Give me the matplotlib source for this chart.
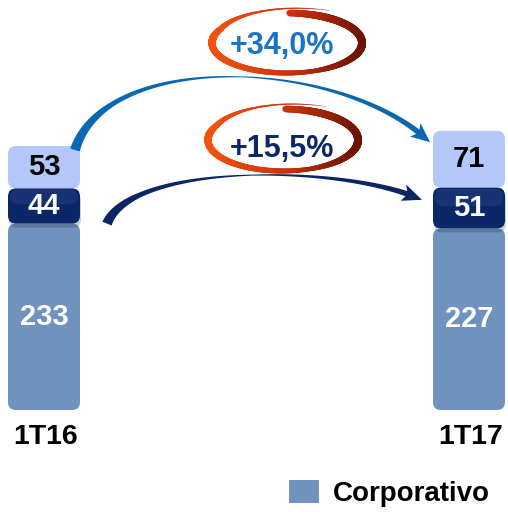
import numpy as np
import matplotlib
matplotlib.use('Agg')
import matplotlib.pyplot as plt
from matplotlib.patches import FancyBboxPatch, Polygon, Patch
from matplotlib.collections import LineCollection
from matplotlib.colors import to_rgb

plt.rcParams['font.family'] = ['Liberation Sans', 'DejaVu Sans']
plt.rcParams['font.weight'] = 'bold'

# data
periods = ['1T16', '1T17']
corporativo = [233, 227]
middle = [44, 51]
top = [53, 71]
growth_labels = ['+34,0%', '+15,5%']
legend_label = 'Corporativo'

W, H = 508, 515
fig = plt.figure(figsize=(W / 100, H / 100), dpi=100)
ax = fig.add_axes([0, 0, 1, 1])
px_x = 425.0   # pixels per x unit
px_y = 0.8     # pixels per value unit
ax.set_xlim(-44 / px_x, (W - 44) / px_x)
ax.set_ylim(-105 / px_y, (H - 105) / px_y)
ax.axis('off')

c_low, c_mid, c_top = '#6f92bf', '#0c2767', '#b3c7fb'
x = np.arange(len(periods))
width = 72 / px_x

b1 = ax.bar(x, corporativo, width, color=c_low)
b3 = ax.bar(x, top, width, bottom=np.add(corporativo, middle), color=c_top)
b2 = ax.bar(x, middle, width, bottom=corporativo, color=c_mid)


def round_bars(container, z, shadow=False):
    style = "round,pad=0,rounding_size=%f" % (8 / px_x)
    for r in container:
        r.set_visible(False)
        x0, y0, w, h = r.get_x(), r.get_y(), r.get_width(), r.get_height()
        if shadow:
            ax.add_patch(FancyBboxPatch((x0 + 1 / px_x, y0 - 4 / px_y), w, h,
                                        boxstyle=style, mutation_aspect=px_x / px_y,
                                        fc='#000000', alpha=0.18, lw=0, zorder=z - 0.1))
        ax.add_patch(FancyBboxPatch((x0, y0), w, h, boxstyle=style,
                                    mutation_aspect=px_x / px_y,
                                    fc=r.get_facecolor(), lw=0, zorder=z))
        if shadow:
            # glossy top of the dark box
            ax.add_patch(FancyBboxPatch((x0 + 2 / px_x, y0 + h * 0.55), w - 4 / px_x, h * 0.42,
                                        boxstyle=style, mutation_aspect=px_x / px_y,
                                        fc='#3a5a9e', alpha=0.25, lw=0, zorder=z + 0.1))


round_bars(b1, 2)
round_bars(b3, 2)
round_bars(b2, 3, shadow=True)

# value labels
for i in range(len(periods)):
    ax.text(x[i], corporativo[i] / 2, str(corporativo[i]), ha='center', va='center',
            color='white', fontsize=21, zorder=5)
    ax.text(x[i], corporativo[i] + middle[i] / 2, str(middle[i]), ha='center', va='center',
            color='white', fontsize=21, zorder=5)
    ax.text(x[i], corporativo[i] + middle[i] + top[i] / 2, str(top[i]), ha='center',
            va='center', color='black', fontsize=21, zorder=5)
    ax.annotate(periods[i], (x[i], 0), xytext=(1, -10), textcoords='offset points',
                ha='center', va='top', fontsize=20.5, color='black')

ax.legend(handles=[Patch(facecolor=c_low)], labels=[legend_label], loc='lower right',
          bbox_to_anchor=(490 / W, 8 / H), frameon=False, borderpad=0, borderaxespad=0,
          handlelength=1.1, handleheight=0.9, handletextpad=0.5,
          prop={'size': 20, 'weight': 'bold'})

# overlay in pixel space for the arrows and the rings
ov = fig.add_axes([0, 0, 1, 1], zorder=3)
ov.set_xlim(0, W)
ov.set_ylim(H, 0)
ov.axis('off')


def to_px(xd, yd):
    dx, dy = ax.transData.transform((xd, yd))
    return np.array([dx, H - dy])


def swoosh(p0, p3, d1, d2, color, w0=10, head_len=17, head_w=17):
    p1, p2 = p0 + np.array(d1), p3 + np.array(d2)
    t = np.linspace(0, 1, 400)[:, None]
    pts = (1 - t) ** 3 * p0 + 3 * (1 - t) ** 2 * t * p1 + 3 * (1 - t) * t ** 2 * p2 + t ** 3 * p3
    dist = np.linalg.norm(pts - p3, axis=1)
    k = int(np.argmax(dist < head_len))
    body = pts[:k + 1]
    tt = np.linspace(0, 1, len(body))
    w = np.interp(tt, [0, 0.2, 0.55, 1], [w0, 5, 1, 5.5])
    tang = np.gradient(body, axis=0)
    tang /= np.linalg.norm(tang, axis=1)[:, None]
    nrm = np.column_stack([-tang[:, 1], tang[:, 0]])
    left = body + nrm * w[:, None] / 2
    right = body - nrm * w[:, None] / 2
    base, n_end, t_end = body[-1], nrm[-1], tang[-1]
    head = [base + n_end * head_w / 2 - t_end * 3, p3, base - n_end * head_w / 2 - t_end * 3]
    poly = np.vstack([left, head, right[::-1]])
    ov.add_patch(Polygon(poly, closed=True, fc=color, lw=0))


def ring(cx, cy, a, b):
    deg = np.linspace(62, 448, 500)
    th = np.radians(deg)
    grow = 1 + 0.22 * np.clip(1 - (deg - 62) / 90, 0, 1)
    xs = cx + a * grow * np.cos(th)
    ys = cy - b * grow * np.sin(th)
    w = np.interp(deg, [62, 110, 170, 230, 290, 350, 420, 448],
                  [0.3, 2, 7.5, 6, 4.5, 8, 7.5, 6.5])
    frac = np.clip((xs - (cx - a)) / (2 * a), 0, 1)
    c0, c1, c2 = (np.array(to_rgb(c)) for c in ('#f5520f', '#cf340b', '#6b1300'))
    cols = np.where(frac[:, None] < 0.5,
                    c0 + (c1 - c0) * (frac[:, None] / 0.5),
                    c1 + (c2 - c1) * ((frac[:, None] - 0.5) / 0.5))
    pts = np.column_stack([xs, ys])
    segs = np.stack([pts[:-1], pts[1:]], axis=1)
    ov.add_collection(LineCollection(segs, linewidths=w[:-1] * 0.72, colors=cols[:-1],
                                     capstyle='round'))


# arrows anchored on the bars
tot0 = corporativo[0] + middle[0] + top[0]
p0 = to_px(x[0] + width / 2, tot0) + np.array([-5, 4])
p3 = to_px(x[1] - width / 2, corporativo[1] + middle[1] + top[1] * 0.8) + np.array([-3, 0])
swoosh(p0, p3, (30, -100), (-90, -85), '#0a68b0')

p0 = to_px(x[0] + width / 2, corporativo[0]) + np.array([27, 0])
p3 = to_px(x[1] - width / 2, corporativo[1] + middle[1] * 0.7) + np.array([-11, 0])
swoosh(p0, p3, (25, -62), (-75, -35), '#0b2463')

ring(287, 43, 75, 30)
ring(283, 140, 75, 31)
ov.text(282, 46, growth_labels[0], ha='center', va='center', fontsize=22, color='#1874c6')
ov.text(282, 149, growth_labels[1], ha='center', va='center', fontsize=22, color='#0c2767')

fig.savefig('out.png', dpi=100)
